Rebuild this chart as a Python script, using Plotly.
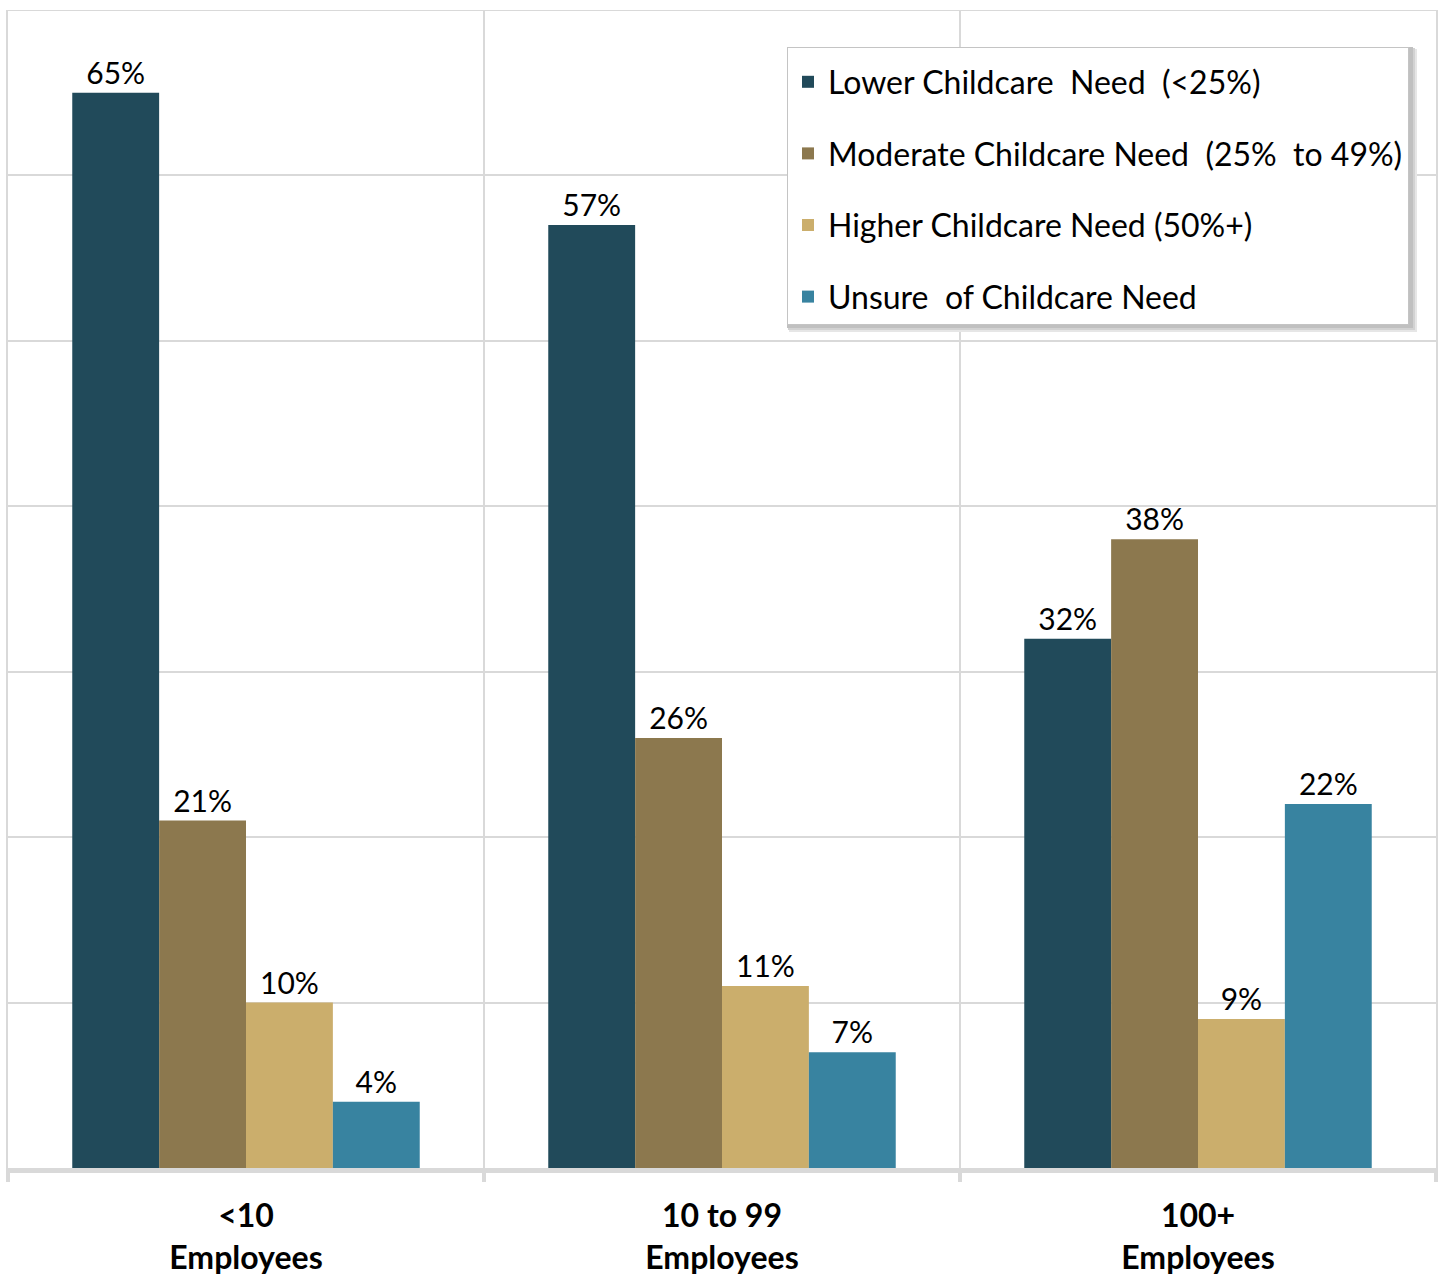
import plotly.graph_objects as go

# Share of employers by childcare need level, split by company size
categories = ["<10<br>Employees", "10 to 99<br>Employees", "100+<br>Employees"]
series_names = [
    "Lower Childcare  Need  (<25%)",
    "Moderate Childcare Need  (25%  to 49%)",
    "Higher Childcare Need (50%+)",
    "Unsure  of Childcare Need",
]
lower_need = [65, 57, 32]
moderate_need = [21, 26, 38]
higher_need = [10, 11, 9]
unsure_need = [4, 7, 22]
series_colors = ["#214a5a", "#8c784e", "#cbae6c", "#3883a0"]

FONT = "Lato, 'Open Sans', sans-serif"
GRID = "#d9d9d9"

# plot area in pixels, used to place the legend and its drop shadow
W, H = 1442, 1279
M_L, M_R, M_T, M_B = 8, 6, 10, 111
PW, PH = W - M_L - M_R, H - M_T - M_B


def px_x(x):
    return (x - M_L) / PW


def px_y(y):
    return (H - M_B - y) / PH


fig = go.Figure()
for i, (name, vals, color) in enumerate(
    zip(series_names, [lower_need, moderate_need, higher_need, unsure_need], series_colors)
):
    fig.add_trace(
        go.Bar(
            x=categories,
            y=vals,
            name=name,
            legendgroup=f"g{i}",
            marker=dict(color=color, line=dict(width=0)),
            text=[f"{v}%" for v in vals],
            textposition="outside",
            textfont=dict(family=FONT, size=30, color="#000000"),
            cliponaxis=False,
        )
    )

# legend box (left, top, right, bottom) in pixels
LEG = (787, 47, 1410, 325)

fig.update_layout(
    width=W,
    height=H,
    margin=dict(l=M_L, r=M_R, t=M_T, b=M_B, autoexpand=False),
    paper_bgcolor="white",
    plot_bgcolor="white",
    barmode="group",
    bargap=0.27,
    bargroupgap=0,
    font=dict(family=FONT, color="#000000"),
    showlegend=True,
    legend=dict(
        x=px_x(LEG[0]),
        y=px_y(LEG[1]),
        xanchor="left",
        yanchor="top",
        bgcolor="white",
        bordercolor="#c4c4c4",
        borderwidth=1,
        font=dict(family=FONT, size=32, color="#000000"),
        tracegroupgap=27,
        traceorder="grouped",
        title=dict(text=" ", font=dict(size=5)),
    ),
    xaxis=dict(
        type="category",
        tickson="boundaries",
        automargin=False,
        showgrid=True,
        gridcolor=GRID,
        gridwidth=2,
        showline=True,
        linecolor=GRID,
        linewidth=5,
        ticks="outside",
        ticklen=9,
        tickwidth=4,
        tickcolor=GRID,
        tickfont=dict(family=FONT, size=32, color="#000000", weight="bold"),
        ticklabelstandoff=16,
    ),
    yaxis=dict(
        range=[0, 70],
        dtick=10,
        automargin=False,
        showgrid=True,
        gridcolor=GRID,
        gridwidth=2,
        showticklabels=False,
        zeroline=False,
        showline=True,
        mirror=True,
        linecolor=GRID,
        linewidth=2,
        ticks="",
    ),
)

# top border of the plotting area (the 70% gridline sits on the edge)
fig.add_shape(
    type="line", xref="paper", yref="y", x0=0, x1=1, y0=70, y1=70,
    line=dict(color=GRID, width=2), layer="below",
)

# soft drop shadow behind the legend box
for off, col in [(7, "#e6e6e6"), (5, "#d2d2d2"), (3, "#c0c0c0")]:
    fig.add_shape(
        type="rect", xref="paper", yref="paper",
        x0=px_x(LEG[0] - 1 + off // 2), x1=px_x(LEG[2] + off),
        y0=px_y(LEG[3] + off), y1=px_y(LEG[1] - 1 + off // 2),
        fillcolor=col, line=dict(width=0), layer="above",
    )

fig.write_html("out.html")
